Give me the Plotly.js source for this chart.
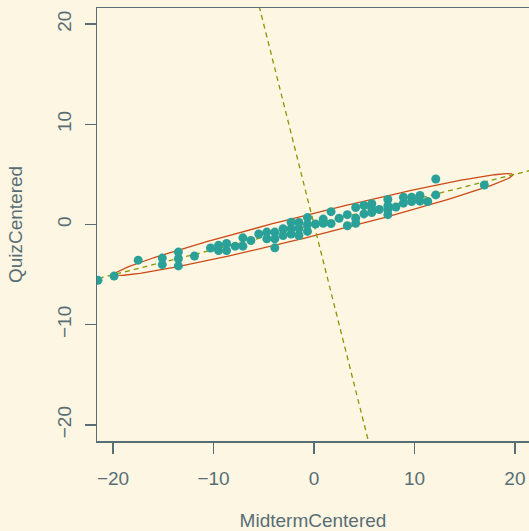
<!DOCTYPE html>
<html><head><meta charset="utf-8">
<script src="https://cdn.plot.ly/plotly-3.0.1.min.js"></script>
<style>html,body{margin:0;padding:0;background:#fdf6e3;}</style>
</head><body><div id="chart" style="width:529px;height:531px;"></div>
<script>
// Data points
const midterm = [-21.5,-19.9,-17.5,-15.1,-15.1,-13.5,-13.5,-13.5,-11.9,-10.3,-9.5,-9.5,-8.7,-8.7,-7.85,-7.08,-7.08,-6.28,-5.5,-4.7,-4.7,-3.9,-3.9,-3.9,-3.08,-3.08,-2.28,-2.28,-2.28,-1.5,-1.5,-1.5,-0.65,-0.65,-0.65,0.15,0.92,0.92,1.7,1.7,2.5,3.32,3.32,4.15,4.15,4.15,4.97,4.97,5.75,5.75,5.75,6.5,7.35,7.35,7.35,7.35,8.15,8.9,8.9,9.72,9.72,10.55,10.55,11.32,12.12,12.12,16.95];
const quiz = [-5.57,-5.15,-3.56,-3.35,-4.0,-2.75,-3.42,-4.13,-3.14,-2.35,-2.08,-2.6,-1.9,-2.6,-2.16,-1.33,-2.16,-1.6,-0.95,-0.76,-1.42,-0.76,-1.42,-2.33,-0.42,-1.1,0.22,-0.42,-0.96,0.2,-0.4,-1.1,0.69,0.0,-0.69,0.05,0.54,0.12,1.28,0.1,0.62,0.98,-0.12,1.7,0.62,0.12,1.9,1.06,2.08,1.59,1.2,1.5,2.5,1.87,1.46,0.98,1.75,2.73,2.13,2.73,2.3,2.9,2.33,2.3,4.54,2.95,3.94];

// Ellipse and principal axes
const ellipseCenter = [0, 0];
const ellipseSemiMajor = 20.4;
const ellipseSemiMinor = 1.1;
const majorSlope = 0.2506;

const xTicks = [-20, -10, 0, 10, 20];
const yTicks = [-20, -10, 0, 10, 20];
const xLabel = 'MidtermCentered';
const yLabel = 'QuizCentered';

const theta = Math.atan(majorSlope);
const c = Math.cos(theta), s = Math.sin(theta);
const ex = [], ey = [];
for (let i = 0; i <= 360; i++) {
  const t = i * Math.PI / 180;
  const u = ellipseSemiMajor * Math.cos(t), v = ellipseSemiMinor * Math.sin(t);
  ex.push(ellipseCenter[0] + u * c - v * s);
  ey.push(ellipseCenter[1] + u * s + v * c);
}
const L = 40;
const majX = [ellipseCenter[0] - L * c, ellipseCenter[0] + L * c];
const majY = [ellipseCenter[1] - L * s, ellipseCenter[1] + L * s];
const minX = [ellipseCenter[0] + L * s, ellipseCenter[0] - L * s];
const minY = [ellipseCenter[1] - L * c, ellipseCenter[1] + L * c];

const fg = '#586e75';
const traces = [
  {x: ex, y: ey, mode: 'lines', line: {color: '#cb4b16', width: 1.3}, hoverinfo: 'skip'},
  {x: majX, y: majY, mode: 'lines', line: {color: '#859900', width: 1.3, dash: '5px,4px'}, hoverinfo: 'skip'},
  {x: minX, y: minY, mode: 'lines', line: {color: '#859900', width: 1.3, dash: '5px,4px'}, hoverinfo: 'skip'},
  {x: midterm, y: quiz, mode: 'markers', marker: {color: '#2aa198', size: 9}, cliponaxis: true}
];

const axisCommon = {
  showgrid: false, zeroline: false, showline: true, linecolor: fg, linewidth: 1.5,
  ticks: 'outside', ticklen: 11, tickwidth: 1.5, tickcolor: fg,
  tickfont: {size: 19, color: fg}, automargin: false
};

const layout = {
  width: 529, height: 531,
  paper_bgcolor: '#fdf6e3', plot_bgcolor: '#fdf6e3',
  margin: {l: 97, r: 0, t: 8, b: 90, pad: 0},
  showlegend: false,
  font: {family: '"Liberation Sans", Arial, sans-serif', size: 19, color: fg},
  xaxis: Object.assign({}, axisCommon, {
    range: [-21.6, 21.4], tickvals: xTicks, mirror: true, ticklabelstandoff: 9,
    title: {text: xLabel, font: {size: 19, color: fg}, standoff: 28}
  }),
  yaxis: Object.assign({}, axisCommon, {
    range: [-21.6, 21.6], tickvals: yTicks, tickangle: -90, mirror: false, ticklabelstandoff: 6,
    title: {text: yLabel, font: {size: 19, color: fg}, standoff: 26}
  })
};

Plotly.newPlot('chart', traces, layout, {staticPlot: true, displayModeBar: false});
</script>
</body></html>
